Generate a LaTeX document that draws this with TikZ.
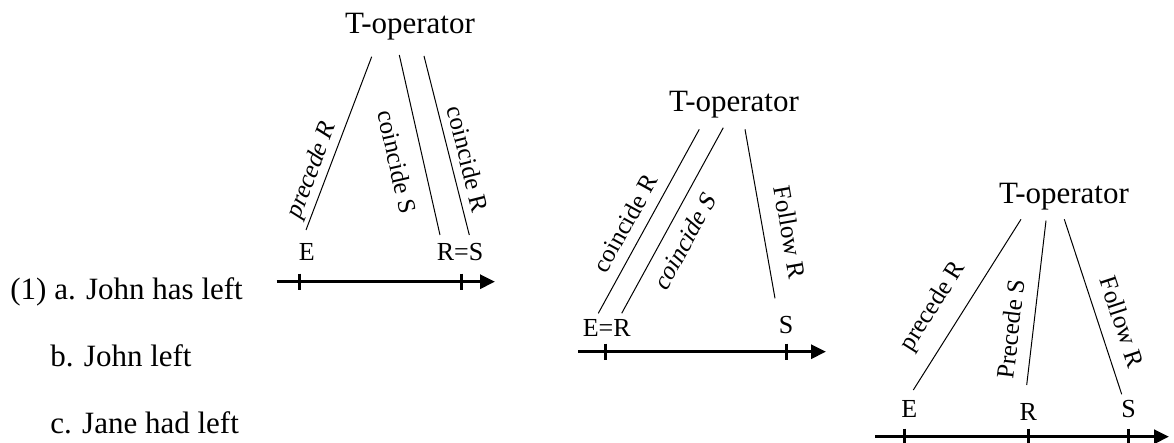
\documentclass[tikz,border=0pt]{standalone}
\usepackage{fontspec}
\setmainfont{Liberation Serif}
\usetikzlibrary{arrows.meta}
\tikzset{
  mainfont/.style={font=\fontsize{15.5}{18}\selectfont},
  tlabel/.style={font=\fontsize{13}{15}\selectfont, inner sep=0pt, anchor=base},
  rlabel/.style={font=\fontsize{12.5}{15}\selectfont, inner sep=0pt, anchor=center},
  conn/.style={line width=0.5pt},
  axisline/.style={line width=1.5pt, -{Triangle[length=7.5pt,width=7pt]}},
  tick/.style={line width=1.5pt},
  top/.style={mainfont, inner sep=0pt, anchor=base},
  ex/.style={mainfont, inner sep=0pt, anchor=base west}
}
\begin{document}
\begin{tikzpicture}[x=0.5pt,y=-0.5pt]
\useasboundingbox (0,0) rectangle (1174,443);

% example sentences
\node[ex] (ea) at (10,300) {(1) a. John has left};
\node[ex] (eb) at (50,366.7) {b. John left};
\node[ex] (ec) at (50,433.3) {c. Jane had left};

% ---------- diagram 1 ----------
\node[top] (t1) at (410,33.3) {T-operator};
\coordinate (d1a) at (371.7,56.7);
\coordinate (d1b) at (306,230);
\coordinate (d1c) at (399.3,55);
\coordinate (d1d) at (440,235);
\coordinate (d1e) at (424,56);
\coordinate (d1f) at (469.3,235);
\draw[conn] (d1b) -- (d1a);
\draw[conn] (d1c) -- (d1d);
\draw[conn] (d1e) -- (d1f);
\node[rlabel, rotate=69.2, xslant=0.2] (l1a) at (312.5,170) {precede R};
\node[rlabel, rotate=-77.3] (l1b) at (397.3,161.7) {coincide S};
\node[rlabel, rotate=-75.8] (l1c) at (468,159) {coincide R};
\node[tlabel] (e1) at (306.7,260.7) {E};
\node[tlabel] (rs1) at (460,260.7) {R=S};
\coordinate (ax1s) at (276.7,281.7);
\coordinate (ax1e) at (495,281.7);
\draw[axisline] (ax1s) -- (ax1e);
\draw[tick] (299.3,273.7) -- (299.3,289.7);
\draw[tick] (461.7,273.7) -- (461.7,289.7);

% ---------- diagram 2 ----------
\node[top] (t2) at (734,111.7) {T-operator};
\coordinate (d2a) at (699.3,129.3);
\coordinate (d2b) at (598.3,313.3);
\coordinate (d2c) at (723.3,127.7);
\coordinate (d2d) at (621.7,313.3);
\coordinate (d2e) at (745,129.3);
\coordinate (d2f) at (775,298.3);
\draw[conn] (d2b) -- (d2a);
\draw[conn] (d2d) -- (d2c);
\draw[conn] (d2e) -- (d2f);
\node[rlabel, rotate=61.2] (l2a) at (625,223.3) {coincide R};
\node[rlabel, rotate=61.3, xslant=0.2] (l2b) at (685,240.7) {coincide S};
\node[rlabel, rotate=-80] (l2c) at (790,232.3) {Follow R};
\node[tlabel] (er2) at (606.7,336.7) {E=R};
\node[tlabel] (s2) at (786,333.3) {S};
\coordinate (ax2s) at (578,351.7);
\coordinate (ax2e) at (826,351.7);
\draw[axisline] (ax2s) -- (ax2e);
\draw[tick] (605,343.7) -- (605,359.7);
\draw[tick] (786.7,343.7) -- (786.7,359.7);

% ---------- diagram 3 ----------
\node[top] (t3) at (1064,203.3) {T-operator};
\coordinate (d3a) at (1021,219.3);
\coordinate (d3b) at (913.3,390);
\coordinate (d3c) at (1046,220.7);
\coordinate (d3d) at (1026.7,385);
\coordinate (d3e) at (1064.3,219.3);
\coordinate (d3f) at (1121.7,394.3);
\draw[conn] (d3b) -- (d3a);
\draw[conn] (d3d) -- (d3c);
\draw[conn] (d3e) -- (d3f);
\node[rlabel, rotate=57.8] (l3a) at (933.3,306.7) {precede R};
\node[rlabel, rotate=83.3] (l3b) at (1010.7,329) {Precede S};
\node[rlabel, rotate=-71.8] (l3c) at (1122.3,321.7) {Follow R};
\node[tlabel] (e3) at (909.3,417.7) {E};
\node[tlabel] (r3) at (1028.3,421) {R};
\node[tlabel] (s3) at (1128.7,417.7) {S};
\coordinate (ax3s) at (875,436.7);
\coordinate (ax3e) at (1169,436.7);
\draw[axisline] (ax3s) -- (ax3e);
\draw[tick] (904,428.7) -- (904,443);
\draw[tick] (1028.3,428.7) -- (1028.3,443);
\draw[tick] (1128.7,428.7) -- (1128.7,443);
\end{tikzpicture}
\end{document}
